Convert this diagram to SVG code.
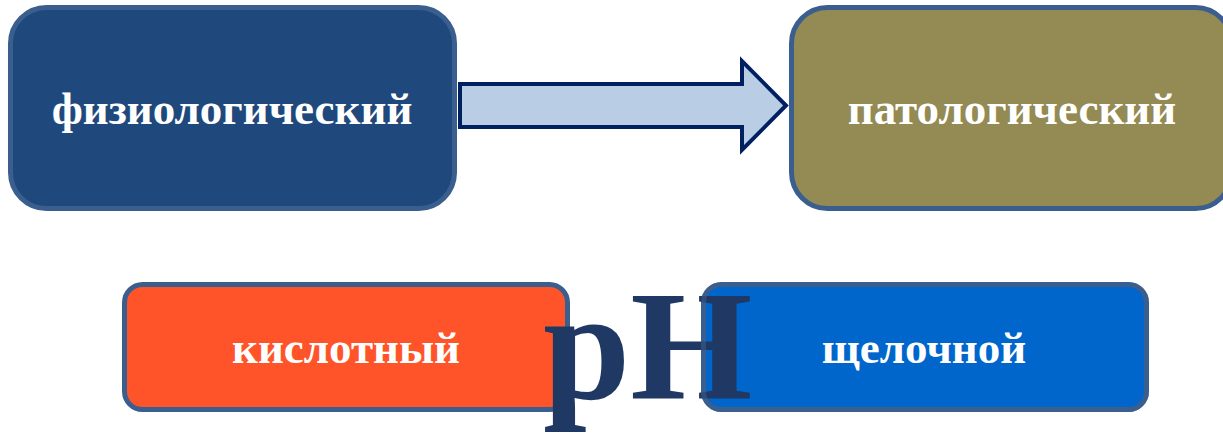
<svg xmlns="http://www.w3.org/2000/svg" width="1223" height="434" viewBox="0 0 1223 434">
  <style>
    .box { stroke: #3A5F8E; stroke-width: 5; }
    .label { font-family: "Liberation Serif", "Times New Roman", serif; font-weight: bold; font-size: 45px; fill: #FFFFFF; text-anchor: middle; }
    .ph { font-family: "Liberation Serif", "Times New Roman", serif; font-weight: bold; font-size: 157px; fill: #1F3864; }
  </style>
  <rect width="1223" height="434" fill="#FFFFFF"/>

  <g id="physiological">
    <rect class="box" x="10.5" y="7.5" width="444" height="201" rx="36" fill="#1F497D"/>
    <text class="label" x="232" y="124">физиологический</text>
  </g>

  <g id="pathological">
    <rect class="box" x="791.5" y="7.5" width="440" height="201" rx="36" fill="#948A54"/>
    <text class="label" x="1012" y="124">патологический</text>
  </g>

  <g id="connectors">
    <path d="M460,84 L742,84 L742,61 L786,105.5 L742,150 L742,127 L460,127 Z" fill="#B9CDE5" stroke="#002060" stroke-width="4" stroke-linejoin="miter"/>
  </g>

  <g id="acidic">
    <rect class="box" x="124.5" y="284.5" width="443" height="125" rx="18" fill="#FF5429"/>
    <text class="label" x="346" y="363">кислотный</text>
  </g>

  <g id="alkaline">
    <rect class="box" x="703.5" y="284.5" width="443" height="125" rx="18" fill="#0066CC"/>
    <text class="label" x="924" y="363">щелочной</text>
  </g>

  <g id="ph">
    <text class="ph" x="543" y="399">pH</text>
    <!-- alkaline box outline showing faintly over the letter H -->
    <rect x="703.5" y="284.5" width="443" height="125" rx="18" fill="none" stroke="#3A5F8E" stroke-width="5" opacity="0.55"/>
  </g>
</svg>
